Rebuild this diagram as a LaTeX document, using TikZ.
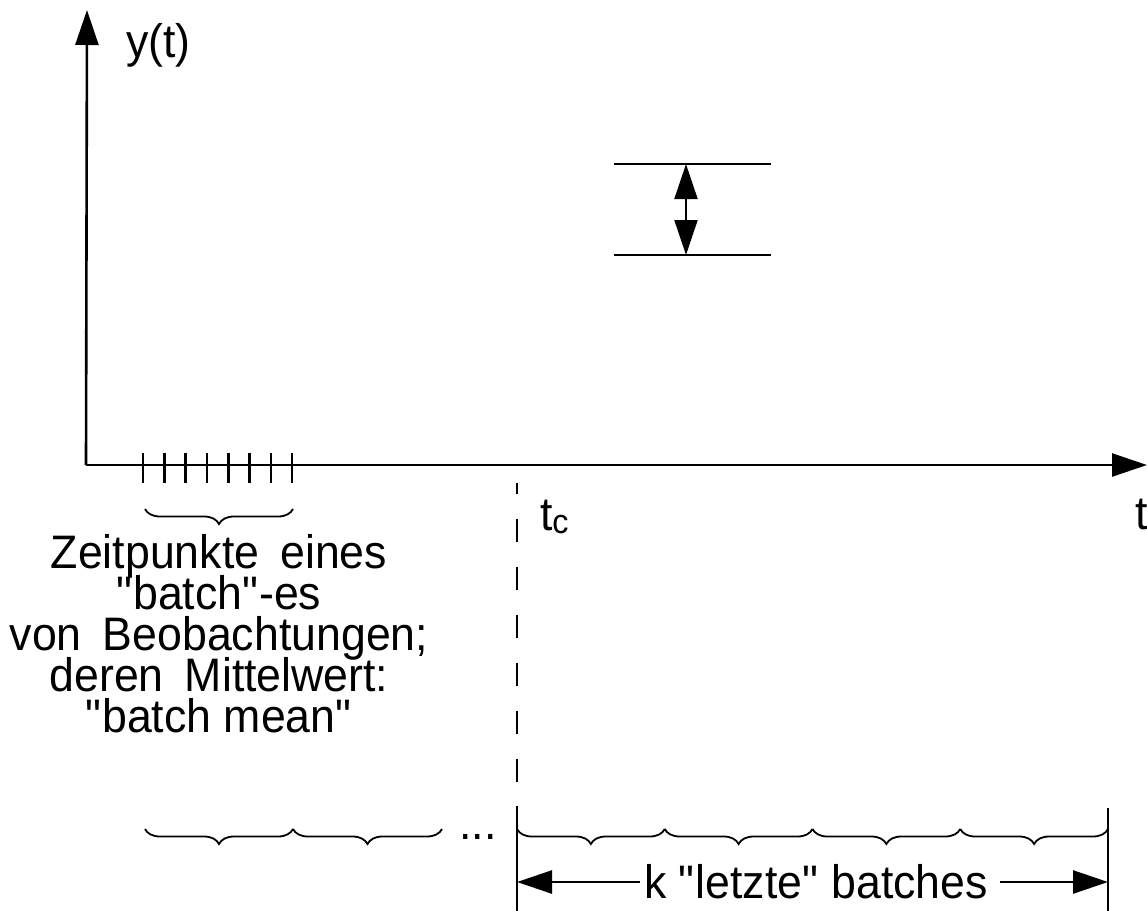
\documentclass[tikz,border=0pt]{standalone}
\usepackage{fontspec}
\setmainfont{Liberation Sans}[FakeStretch=0.95]
\usetikzlibrary{arrows.meta,decorations.pathreplacing}
\newcommand{\wgap}{\hspace{0.45em}}
\newcommand{\q}{\textquotedbl}
% keep a fixed baseline distance even where lines nearly touch
\setlength{\lineskiplimit}{-100pt}

\begin{document}
\begin{tikzpicture}[x=0.5pt,y=-0.5pt,
        font=\fontsize{23.5}{20.5}\selectfont,
        axis/.style={line width=1.3pt},
        bar/.style={line width=1.2pt},
        tip/.style={-{Triangle[length=17.5pt,width=11.5pt]}},
        tips/.style={{Triangle[length=17.5pt,width=11.5pt]}-{Triangle[length=17.5pt,width=11.5pt]}},
        batchbrace/.style={line width=0.9pt, decorate, decoration={brace, mirror, amplitude=7.5pt}}]
    \useasboundingbox (0,0) rectangle (1147,911);

    % axes
    \coordinate (O) at (86,465);
    \coordinate (ytip) at (87,10);
    \coordinate (xtip) at (1147,465);
    \draw[axis,tip] (O) -- (ytip);
    \draw[axis,tip] (O) -- (xtip);
    \node (ylab) at (119,57) [anchor=base west] {y(t)};
    \node (tlab) at (1128,529) [anchor=base west] {t};

    % ticks of one batch
    \foreach \i in {0,...,7}
        \draw[axis] ({143+21.3*\i},453) -- ({143+21.3*\i},483);
    \draw[batchbrace] (145,509) -- (293,509);
    \node (batch) at (219,634) [align=center] {Zeitpunkte\wgap eines\\\q batch\q-es\\von\wgap Beobachtungen;\\deren\wgap Mittelwert:\\\q batch mean\q};

    % band between two levels
    \coordinate (hi) at (686,164);
    \coordinate (lo) at (686,255);
    \draw[bar] (614,164) -- (771,164);
    \draw[bar] (614,255) -- (771,255);
    \draw[line width=1pt,tips] (lo) -- (hi);

    % t_c
    \draw[axis,dash pattern=on 11.5pt off 12.5pt,dash phase=6pt] (517,483) -- (517,806);
    \node (tc) at (533,530) [anchor=base west] {t\raisebox{-1.5pt}{\fontsize{17}{17}\selectfont c}};

    % batches before and after t_c
    \draw[batchbrace] (145,829) -- (293,829);
    \draw[batchbrace] (293,829) -- (442,829);
    \node (dots) at (478,839) [anchor=base] {...};
    \foreach \i in {0,...,3}
        \draw[batchbrace] ({517+147.75*\i},829) -- ({517+147.75*(\i+1)},829);

    % last k batches
    \draw[axis] (517,806) -- (517,911);
    \draw[axis] (1108,808) -- (1108,911);
    \coordinate (kl) at (517,882);
    \coordinate (kr) at (1108,882);
    \node (klab) at (816,882) [inner sep=2pt] {k \q letzte\q{} batches};
    \draw[axis,tip] (klab) -- (kl);
    \draw[axis,tip] (klab.east) ++(8,0) -- (kr);
\end{tikzpicture}
\end{document}
